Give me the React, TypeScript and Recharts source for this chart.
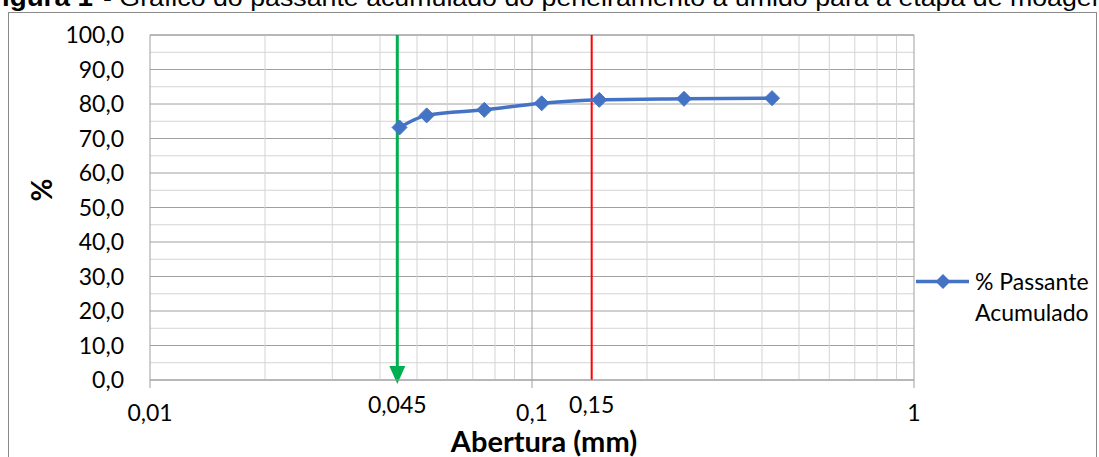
import React from 'react';
import {
  LineChart,
  Line,
  XAxis,
  YAxis,
  CartesianGrid,
  ReferenceLine,
  Legend,
} from 'recharts';

// Sieve openings (mm) and cumulative passing (%)
const aberturas = [0.045, 0.053, 0.075, 0.106, 0.15, 0.25, 0.425];
const passante = [73.2, 76.7, 78.3, 80.2, 81.2, 81.5, 81.7];

const xTicks = [0.01, 0.1, 1];
const yTicks = [0, 10, 20, 30, 40, 50, 60, 70, 80, 90, 100];
const minorYGrid = [5, 15, 25, 35, 45, 55, 65, 75, 85, 95];
const minorXGrid = [0.02, 0.03, 0.04, 0.05, 0.06, 0.07, 0.08, 0.09, 0.2, 0.3, 0.4, 0.5, 0.6, 0.7, 0.8, 0.9];
const majorXGrid = [0.1, 1];
const greenLine = { x: 0.0444, label: '0,045' };
const redLine = { x: 0.1433, label: '0,15' };

const seriesName = '% Passante Acumulado';
const titleBold = 'Figura 1';
const titleRest = '- Gráfico do passante acumulado do peneiramento a úmido para a etapa de moagem';

const data = aberturas.map((a, i) => ({ abertura: a, passante: passante[i] }));

const BLUE = '#4472C4';
const MAJOR = '#A0A0A0';
const MINOR = '#D4D4D4';
const FONT = 'Lato, "Open Sans", sans-serif';

const fmt = (v: number, d: number) => v.toFixed(d).replace('.', ',');

const Diamond = (props: any) => {
  const { cx, cy, index } = props;
  if (cx == null || cy == null) return <g key={`d-${index}`} />;
  const r = 7.5;
  return (
    <path
      key={`d-${index}`}
      d={`M${cx},${cy - r}L${cx + r},${cy}L${cx},${cy + r}L${cx - r},${cy}Z`}
      fill={BLUE}
      stroke={BLUE}
    />
  );
};

const ArrowLine = (props: any) => {
  const { x1, y1, x2, y2 } = props;
  const top = Math.min(y1, y2);
  const bottom = Math.max(y1, y2);
  const x = x1;
  return (
    <g>
      <line x1={x} y1={top} x2={x2} y2={bottom - 12} stroke="#00B050" strokeWidth={3} />
      <path d={`M${x - 8},${bottom - 14}L${x + 8},${bottom - 14}L${x},${bottom + 4}Z`} fill="#00B050" />
    </g>
  );
};

const LegendContent = (props: any) => {
  const item = props.payload && props.payload[0];
  const name = item ? item.value : seriesName;
  return (
    <div style={{ display: 'flex', alignItems: 'flex-start', fontFamily: FONT, fontSize: 23, color: '#000' }}>
      <svg width={59} height={31} style={{ flex: 'none' }}>
        <line x1={0} y1={15.5} x2={53} y2={15.5} stroke={BLUE} strokeWidth={3.5} />
        <path d="M27,8L34.5,15.5L27,23L19.5,15.5Z" fill={BLUE} />
      </svg>
      <div style={{ width: 125, lineHeight: '31px' }}>{name}</div>
    </div>
  );
};

export default function App() {
  return (
    <div style={{ position: 'absolute', left: 0, top: 0, width: 1099, height: 457, overflow: 'hidden', background: '#fff' }}>
      <div
        style={{
          position: 'absolute',
          left: 8,
          top: 12,
          width: 1089,
          height: 470,
          border: '1px solid #8A8A8A',
          boxSizing: 'border-box',
        }}
      />
      <svg width={1099} height={20} style={{ position: 'absolute', left: 0, top: 0 }}>
        <text
          x={-15}
          y={6}
          fontFamily='"Liberation Sans", Arial, sans-serif'
          fontSize={25}
          fontWeight="bold"
          fill="#000"
          textLength={108}
          lengthAdjust="spacingAndGlyphs"
        >
          {titleBold}
        </text>
        <text
          x={103}
          y={6}
          fontFamily='"Liberation Sans", Arial, sans-serif'
          fontSize={24}
          fill="#000"
          textLength={1011}
          lengthAdjust="spacingAndGlyphs"
        >
          {titleRest}
        </text>
      </svg>
      <div style={{ position: 'absolute', left: 0, top: 0 }}>
        <LineChart width={1099} height={457} data={data} margin={{ top: 35, right: 185, bottom: 0, left: 10 }}>
          <CartesianGrid vertical={false} stroke={MAJOR} strokeDasharray="" />
          {minorYGrid.map((v) => (
            <ReferenceLine key={`my-${v}`} y={v} stroke={MINOR} strokeWidth={1} />
          ))}
          {minorXGrid.map((v) => (
            <ReferenceLine key={`mx-${v}`} x={v} stroke={MINOR} strokeWidth={1} />
          ))}
          {majorXGrid.map((v) => (
            <ReferenceLine key={`Mx-${v}`} x={v} stroke={MAJOR} strokeWidth={1} />
          ))}
          <ReferenceLine y={100} stroke={MAJOR} />
          <XAxis
            dataKey="abertura"
            type="number"
            scale="log"
            domain={[0.01, 1]}
            ticks={xTicks}
            allowDataOverflow
            height={77}
            axisLine={{ stroke: MAJOR }}
            tickLine={{ stroke: MAJOR }}
            tickSize={8}
            tickMargin={17}
            tick={{ fill: '#000', fontSize: 23, fontFamily: FONT }}
            tickFormatter={(v: number) => String(v).replace('.', ',')}
            label={{
              value: 'Abertura (mm)',
              position: 'insideBottom',
              offset: 5,
              dx: 12,
              fill: '#000',
              fontSize: 29,
              fontWeight: 'bold',
              fontFamily: FONT,
            }}
          />
          <YAxis
            type="number"
            domain={[0, 100]}
            ticks={yTicks}
            width={140}
            axisLine={{ stroke: MAJOR }}
            tickLine={false}
            tickSize={0}
            tickMargin={26}
            tick={{ fill: '#000', fontSize: 23, fontFamily: FONT }}
            tickFormatter={(v: number) => fmt(v, 1)}
            label={{
              content: () => (
                <text
                  x={41}
                  y={190}
                  transform="rotate(-90 41 190)"
                  textAnchor="middle"
                  dominantBaseline="central"
                  fontFamily={FONT}
                  fontSize={28}
                  fontWeight="bold"
                  fill="#000"
                >
                  %
                </text>
              ),
            }}
          />
          <ReferenceLine
            x={greenLine.x}
            shape={ArrowLine}
            label={{ value: greenLine.label, position: 'bottom', offset: 17, fill: '#000', fontSize: 23, fontFamily: FONT }}
          />
          <ReferenceLine
            x={redLine.x}
            stroke="#FF0000"
            strokeWidth={2}
            label={{ value: redLine.label, position: 'bottom', offset: 17, fill: '#000', fontSize: 23, fontFamily: FONT }}
          />
          <Line
            type="monotone"
            dataKey="passante"
            name={seriesName}
            stroke={BLUE}
            strokeWidth={3.5}
            dot={Diamond}
            activeDot={false}
            isAnimationActive={false}
          />
          <Legend
            layout="vertical"
            align="center"
            verticalAlign="middle"
            wrapperStyle={{ left: 916, top: 266, width: 183 }}
            content={LegendContent}
          />
        </LineChart>
      </div>
    </div>
  );
}
